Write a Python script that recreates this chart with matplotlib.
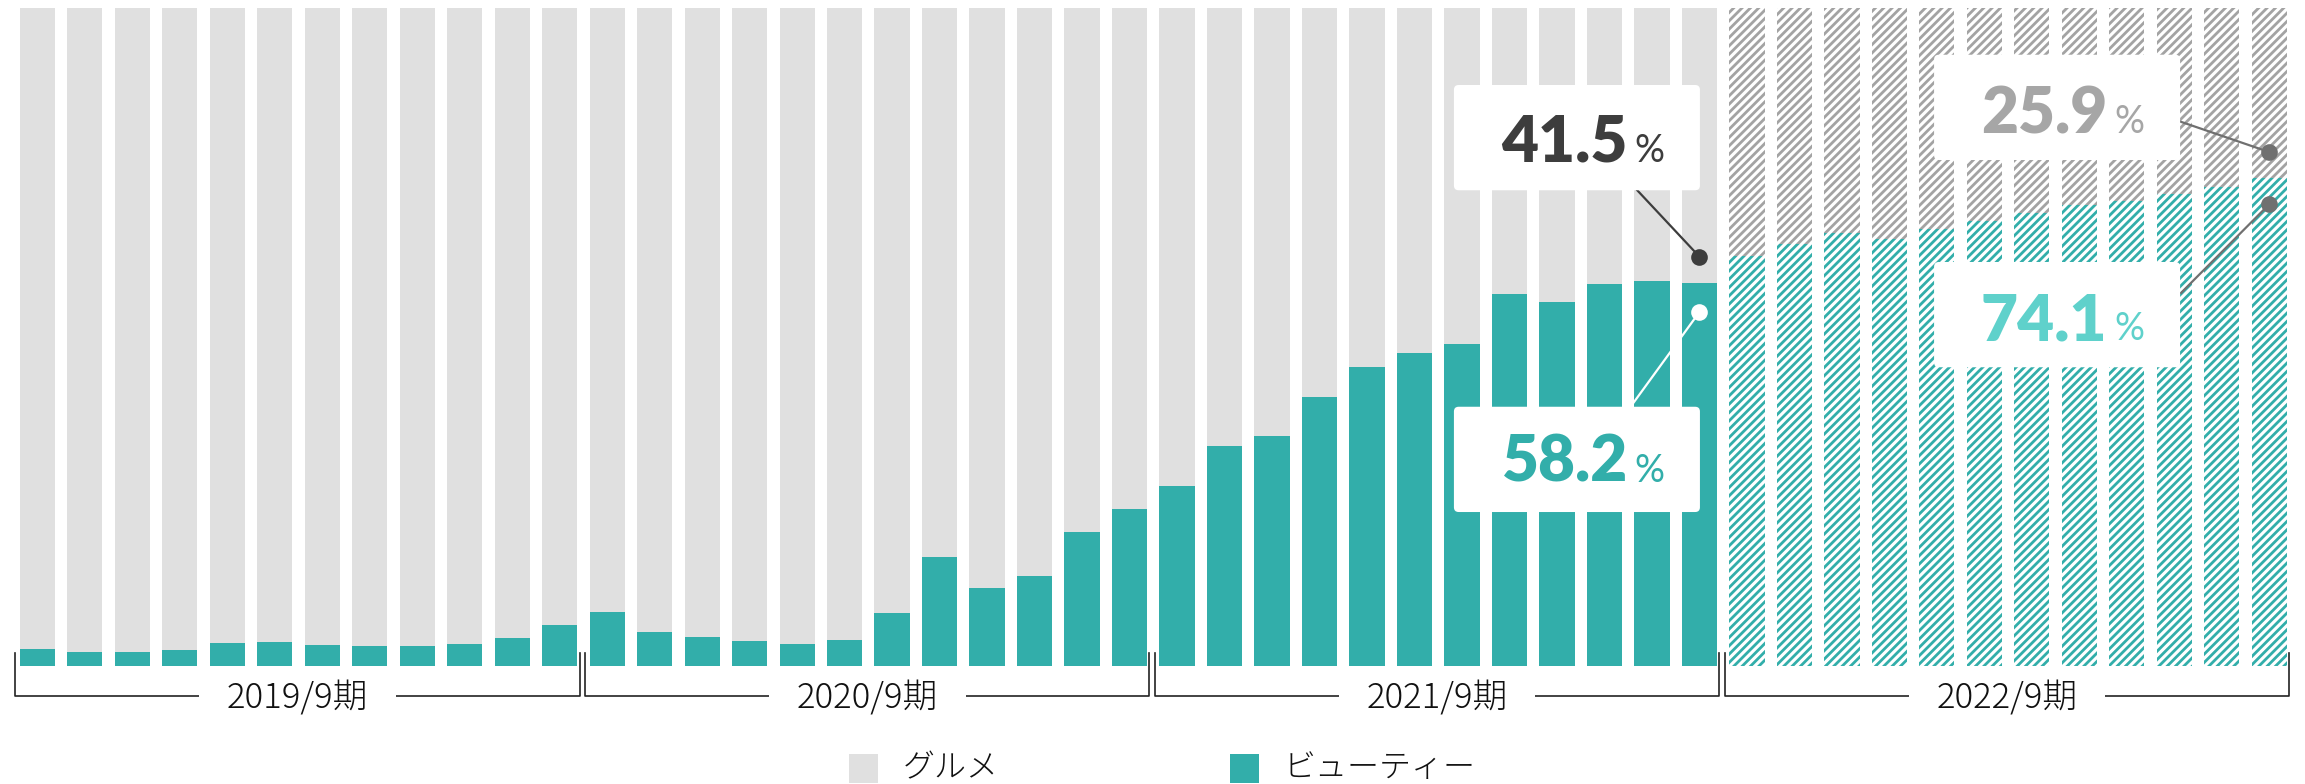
import numpy as np
import matplotlib.pyplot as plt
from matplotlib.patches import FancyBboxPatch, Rectangle

plt.rcParams['font.family'] = ['Noto Sans CJK JP', 'DejaVu Sans']
plt.rcParams['hatch.linewidth'] = 2.0

# monthly share (%) of beauty; the rest is gourmet. last 12 months = forecast (hatched)
periods = ['2019/9期', '2020/9期', '2021/9期', '2022/9期']
beauty = [2.6, 2.2, 2.2, 2.4, 3.5, 3.7, 3.2, 3.1, 3.0, 3.3, 4.2, 6.2,
          8.2, 5.1, 4.4, 3.8, 3.3, 3.9, 8.1, 16.5, 11.9, 13.7, 20.4, 23.8,
          27.4, 33.4, 35.0, 40.9, 45.4, 47.5, 48.9, 56.5, 55.3, 58.1, 58.5, 58.2,
          62.3, 64.2, 65.8, 64.9, 66.4, 67.6, 68.8, 70.1, 70.6, 71.7, 72.8, 74.1]
gourmet = [100 - b for b in beauty]
n_actual = 36
legend_labels = ['グルメ', 'ビューティー']
callout_labels = ['41.5', '58.2', '25.9', '74.1']

teal = '#32aeaa'
grey = '#e0e0e0'
hatch_grey = '#a3a3a3'

W, H = 2305, 784
fig = plt.figure(figsize=(W / 100, H / 100), dpi=100)
ax = fig.add_axes([0, (H - 666) / H, 1, 658 / H])
ax.set_xlim(-0.783, 47.75)
ax.set_ylim(0, 100)
ax.axis('off')

x = np.arange(len(beauty))
b = np.array(beauty)
g = np.array(gourmet)
act = x < n_actual
fc = ~act

ax.bar(x[act], b[act], 0.74, color=teal, zorder=2)
ax.bar(x[act], g[act], 0.74, bottom=b[act], color=grey, zorder=2)
ax.bar(x[fc], b[fc], 0.74, facecolor='white', edgecolor=teal, hatch='////', lw=0, zorder=2)
ax.bar(x[fc], g[fc], 0.74, bottom=b[fc], facecolor='white', edgecolor=hatch_grey, hatch='////', lw=0, zorder=2)

# period brackets
for k, p in enumerate(periods):
    left = 12 * k - 0.47
    right = 12 * k + 11.42
    ax.plot([left, left, right, right], [2.0, -4.6, -4.6, 2.0], color='#222222', lw=1.2,
            clip_on=False, zorder=0.5)
    ax.text((left + right) / 2, -5.0, p, ha='center', va='center', fontsize=25,
            fontweight='light', color='#111111', clip_on=False, zorder=1,
            bbox=dict(boxstyle='square,pad=0.8', fc='white', ec='none'))

# callouts: box (x0, y0), text anchor, dot, line start
last_a = n_actual - 1
last_f = len(beauty) - 1
callouts = [
    (callout_labels[0], '#3d3d3d', (29.83, 72.3), (33.49, 76.6), (last_a, beauty[last_a] + 4.0), (33.69, 72.3), '#3d3d3d', '#3d3d3d'),
    (callout_labels[1], teal, (29.83, 23.4), (33.49, 28.0), (last_a, beauty[last_a] - 4.4), (33.58, 39.7), 'white', 'white'),
    (callout_labels[2], '#a6a6a6', (39.94, 76.9), (43.58, 81.0), (last_f, beauty[last_f] + 4.0), (45.14, 82.7), '#707070', '#707070'),
    (callout_labels[3], '#5fd1cb', (39.94, 45.4), (43.58, 49.5), (last_f, beauty[last_f] - 3.9), (45.14, 56.7), '#707070', '#707070'),
]
for lab, tc, (bx, by), (tx, ty), (dx, dy), (lx, ly), lc, dc in callouts:
    box = FancyBboxPatch((bx, by), 5.18, 16.0, boxstyle='round,pad=0,rounding_size=0.1',
                         mutation_aspect=7.2, fc='white', ec='none', zorder=4)
    ax.add_patch(box)
    ax.plot([lx, dx], [ly, dy], color=lc, lw=1.6, zorder=3)
    ax.plot(dx, dy, 'o', ms=12, color=dc, mec='none', zorder=5)
    ax.text(tx, ty, lab, ha='right', va='baseline', fontsize=46, fontweight='heavy',
            family='Lato', color=tc, zorder=6)
    ax.text(tx + 0.15, ty, '%', ha='left', va='baseline', fontsize=27, fontweight='normal',
            family='Lato', color=tc, zorder=6)

# legend
def fx(px):
    return px / W

def fy(py):
    return 1 - py / H

for (x0, col, lab, tx0) in [(849, grey, legend_labels[0], 903), (1230, teal, legend_labels[1], 1284)]:
    fig.patches.append(Rectangle((fx(x0), fy(783)), 29 / W, 29 / H, transform=fig.transFigure,
                                 fc=col, ec='none'))
    fig.text(fx(tx0), fy(768), lab, ha='left', va='center', fontsize=23, fontweight='light',
             color='#111111')

fig.savefig('out.png', dpi=100)
